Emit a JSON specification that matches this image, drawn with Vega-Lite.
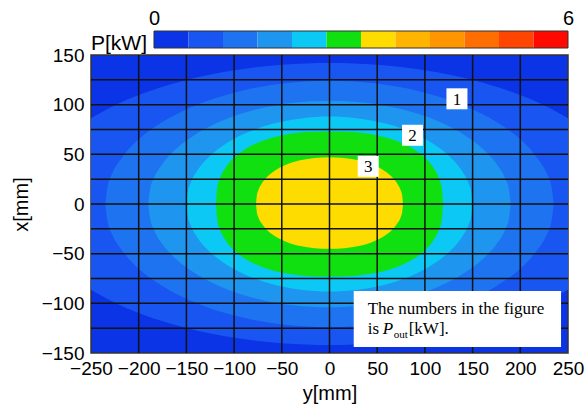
{
  "$schema": "https://vega.github.io/schema/vega-lite/v6.json",
  "background": "white",
  "padding": {"left": 10, "top": 8, "right": 0, "bottom": 0},
  "spacing": 7,
  "bounds": "flush",
  "config": {
    "font": "Liberation Sans",
    "view": {"stroke": null},
    "axis": {
      "grid": false, "ticks": false, "domain": false,
      "labelFontSize": 19, "titleFontSize": 20, "titleFontWeight": "normal",
      "labelOverlap": false, "labelFlush": false,
      "labelColor": "#000", "titleColor": "#000",
      "labelFont": "Liberation Sans", "titleFont": "Liberation Sans"
    }
  },
  "datasets": {
    "colorbar": [
      {"lo": 0, "hi": 0.5, "band": 1}, {"lo": 0.5, "hi": 1, "band": 2},
      {"lo": 1, "hi": 1.5, "band": 3}, {"lo": 1.5, "hi": 2, "band": 4},
      {"lo": 2, "hi": 2.5, "band": 5}, {"lo": 2.5, "hi": 3, "band": 6},
      {"lo": 3, "hi": 3.5, "band": 7}, {"lo": 3.5, "hi": 4, "band": 8},
      {"lo": 4, "hi": 4.5, "band": 9}, {"lo": 4.5, "hi": 5, "band": 10},
      {"lo": 5, "hi": 5.5, "band": 11}, {"lo": 5.5, "hi": 6, "band": 12}
    ],
    "contours": [
      {"band": 2, "ymm": -250, "xtop": 86.4, "xbot": -86.4},
      {"band": 2, "ymm": -225, "xtop": 99.4, "xbot": -99.4},
      {"band": 2, "ymm": -200, "xtop": 109.7, "xbot": -109.7},
      {"band": 2, "ymm": -150, "xtop": 124.9, "xbot": -124.9},
      {"band": 2, "ymm": -100, "xtop": 134.7, "xbot": -134.7},
      {"band": 2, "ymm": -50, "xtop": 140.2, "xbot": -140.2},
      {"band": 2, "ymm": 0, "xtop": 142, "xbot": -142},
      {"band": 2, "ymm": 50, "xtop": 140.2, "xbot": -140.2},
      {"band": 2, "ymm": 100, "xtop": 134.7, "xbot": -134.7},
      {"band": 2, "ymm": 150, "xtop": 124.9, "xbot": -124.9},
      {"band": 2, "ymm": 200, "xtop": 109.7, "xbot": -109.7},
      {"band": 2, "ymm": 225, "xtop": 99.4, "xbot": -99.4},
      {"band": 2, "ymm": 250, "xtop": 86.4, "xbot": -86.4},

      {"band": 3, "ymm": -235, "xtop": 0, "xbot": 0},
      {"band": 3, "ymm": -232.7, "xtop": 17.5, "xbot": -17.5},
      {"band": 3, "ymm": -228, "xtop": 30.1, "xbot": -30.1},
      {"band": 3, "ymm": -216, "xtop": 48.6, "xbot": -48.6},
      {"band": 3, "ymm": -200, "xtop": 65.1, "xbot": -65.1},
      {"band": 3, "ymm": -176, "xtop": 82, "xbot": -82},
      {"band": 3, "ymm": -141, "xtop": 99.2, "xbot": -99.2},
      {"band": 3, "ymm": -94, "xtop": 113.6, "xbot": -113.6},
      {"band": 3, "ymm": -47, "xtop": 121.5, "xbot": -121.5},
      {"band": 3, "ymm": 0, "xtop": 124, "xbot": -124},
      {"band": 3, "ymm": 47, "xtop": 121.5, "xbot": -121.5},
      {"band": 3, "ymm": 94, "xtop": 113.6, "xbot": -113.6},
      {"band": 3, "ymm": 141, "xtop": 99.2, "xbot": -99.2},
      {"band": 3, "ymm": 176, "xtop": 82, "xbot": -82},
      {"band": 3, "ymm": 200, "xtop": 65.1, "xbot": -65.1},
      {"band": 3, "ymm": 216, "xtop": 48.6, "xbot": -48.6},
      {"band": 3, "ymm": 228, "xtop": 30.1, "xbot": -30.1},
      {"band": 3, "ymm": 232.7, "xtop": 17.5, "xbot": -17.5},
      {"band": 3, "ymm": 235, "xtop": 0, "xbot": 0},

      {"band": 4, "ymm": -190, "xtop": 0, "xbot": 0},
      {"band": 4, "ymm": -188.1, "xtop": 14.7, "xbot": -14.7},
      {"band": 4, "ymm": -184.3, "xtop": 25.3, "xbot": -25.3},
      {"band": 4, "ymm": -174.8, "xtop": 40.8, "xbot": -40.8},
      {"band": 4, "ymm": -161.5, "xtop": 54.8, "xbot": -54.8},
      {"band": 4, "ymm": -142.5, "xtop": 68.8, "xbot": -68.8},
      {"band": 4, "ymm": -114, "xtop": 83.2, "xbot": -83.2},
      {"band": 4, "ymm": -76, "xtop": 95.3, "xbot": -95.3},
      {"band": 4, "ymm": -38, "xtop": 101.9, "xbot": -101.9},
      {"band": 4, "ymm": 0, "xtop": 104, "xbot": -104},
      {"band": 4, "ymm": 38, "xtop": 101.9, "xbot": -101.9},
      {"band": 4, "ymm": 76, "xtop": 95.3, "xbot": -95.3},
      {"band": 4, "ymm": 114, "xtop": 83.2, "xbot": -83.2},
      {"band": 4, "ymm": 142.5, "xtop": 68.8, "xbot": -68.8},
      {"band": 4, "ymm": 161.5, "xtop": 54.8, "xbot": -54.8},
      {"band": 4, "ymm": 174.8, "xtop": 40.8, "xbot": -40.8},
      {"band": 4, "ymm": 184.3, "xtop": 25.3, "xbot": -25.3},
      {"band": 4, "ymm": 188.1, "xtop": 14.7, "xbot": -14.7},
      {"band": 4, "ymm": 190, "xtop": 0, "xbot": 0},

      {"band": 5, "ymm": -150, "xtop": 0, "xbot": 0},
      {"band": 5, "ymm": -148.5, "xtop": 12.4, "xbot": -12.4},
      {"band": 5, "ymm": -145.5, "xtop": 21.4, "xbot": -21.4},
      {"band": 5, "ymm": -138, "xtop": 34.5, "xbot": -34.5},
      {"band": 5, "ymm": -127.5, "xtop": 46.4, "xbot": -46.4},
      {"band": 5, "ymm": -112.5, "xtop": 58.2, "xbot": -58.2},
      {"band": 5, "ymm": -90, "xtop": 70.4, "xbot": -70.4},
      {"band": 5, "ymm": -60, "xtop": 80.7, "xbot": -80.7},
      {"band": 5, "ymm": -30, "xtop": 86.2, "xbot": -86.2},
      {"band": 5, "ymm": 0, "xtop": 88, "xbot": -88},
      {"band": 5, "ymm": 30, "xtop": 86.2, "xbot": -86.2},
      {"band": 5, "ymm": 60, "xtop": 80.7, "xbot": -80.7},
      {"band": 5, "ymm": 90, "xtop": 70.4, "xbot": -70.4},
      {"band": 5, "ymm": 112.5, "xtop": 58.2, "xbot": -58.2},
      {"band": 5, "ymm": 127.5, "xtop": 46.4, "xbot": -46.4},
      {"band": 5, "ymm": 138, "xtop": 34.5, "xbot": -34.5},
      {"band": 5, "ymm": 145.5, "xtop": 21.4, "xbot": -21.4},
      {"band": 5, "ymm": 148.5, "xtop": 12.4, "xbot": -12.4},
      {"band": 5, "ymm": 150, "xtop": 0, "xbot": 0},

      {"band": 6, "ymm": -119, "xtop": 0, "xbot": 0},
      {"band": 6, "ymm": -117.8, "xtop": 15.4, "xbot": -15.4},
      {"band": 6, "ymm": -115.4, "xtop": 24.2, "xbot": -24.2},
      {"band": 6, "ymm": -109.5, "xtop": 35.8, "xbot": -35.8},
      {"band": 6, "ymm": -101.2, "xtop": 45.6, "xbot": -45.6},
      {"band": 6, "ymm": -89.3, "xtop": 54.6, "xbot": -54.6},
      {"band": 6, "ymm": -71.4, "xtop": 63.1, "xbot": -63.1},
      {"band": 6, "ymm": -47.6, "xtop": 69.5, "xbot": -69.5},
      {"band": 6, "ymm": -23.8, "xtop": 72.4, "xbot": -72.4},
      {"band": 6, "ymm": 0, "xtop": 73, "xbot": -73},
      {"band": 6, "ymm": 23.8, "xtop": 72.4, "xbot": -72.4},
      {"band": 6, "ymm": 47.6, "xtop": 69.5, "xbot": -69.5},
      {"band": 6, "ymm": 71.4, "xtop": 63.1, "xbot": -63.1},
      {"band": 6, "ymm": 89.3, "xtop": 54.6, "xbot": -54.6},
      {"band": 6, "ymm": 101.2, "xtop": 45.6, "xbot": -45.6},
      {"band": 6, "ymm": 109.5, "xtop": 35.8, "xbot": -35.8},
      {"band": 6, "ymm": 115.4, "xtop": 24.2, "xbot": -24.2},
      {"band": 6, "ymm": 117.8, "xtop": 15.4, "xbot": -15.4},
      {"band": 6, "ymm": 119, "xtop": 0, "xbot": 0},

      {"band": 7, "ymm": -77, "xtop": 0, "xbot": 0},
      {"band": 7, "ymm": -76.2, "xtop": 8.3, "xbot": -8},
      {"band": 7, "ymm": -74.7, "xtop": 13.5, "xbot": -13},
      {"band": 7, "ymm": -70.8, "xtop": 20.9, "xbot": -20},
      {"band": 7, "ymm": -65.5, "xtop": 27.2, "xbot": -26.1},
      {"band": 7, "ymm": -57.8, "xtop": 33.3, "xbot": -32},
      {"band": 7, "ymm": -46.2, "xtop": 39.3, "xbot": -37.7},
      {"band": 7, "ymm": -30.8, "xtop": 44, "xbot": -42.3},
      {"band": 7, "ymm": -15.4, "xtop": 46.4, "xbot": -44.5},
      {"band": 7, "ymm": 0, "xtop": 47, "xbot": -45.1},
      {"band": 7, "ymm": 15.4, "xtop": 46.4, "xbot": -44.5},
      {"band": 7, "ymm": 30.8, "xtop": 44, "xbot": -42.3},
      {"band": 7, "ymm": 46.2, "xtop": 39.3, "xbot": -37.7},
      {"band": 7, "ymm": 57.8, "xtop": 33.3, "xbot": -32},
      {"band": 7, "ymm": 65.5, "xtop": 27.2, "xbot": -26.1},
      {"band": 7, "ymm": 70.8, "xtop": 20.9, "xbot": -20},
      {"band": 7, "ymm": 74.7, "xtop": 13.5, "xbot": -13},
      {"band": 7, "ymm": 76.2, "xtop": 8.3, "xbot": -8},
      {"band": 7, "ymm": 77, "xtop": 0, "xbot": 0}
    ],
    "gridV": [{"ymm": -200}, {"ymm": -150}, {"ymm": -100}, {"ymm": -50}, {"ymm": 0}, {"ymm": 50}, {"ymm": 100}, {"ymm": 150}, {"ymm": 200}],
    "gridH": [{"xmm": -125}, {"xmm": -100}, {"xmm": -75}, {"xmm": -50}, {"xmm": -25}, {"xmm": 0}, {"xmm": 25}, {"xmm": 50}, {"xmm": 75}, {"xmm": 100}, {"xmm": 125}],
    "labels": [
      {"label": "1", "ymm": 133.6, "xmm": 105.9},
      {"label": "2", "ymm": 87, "xmm": 69.2},
      {"label": "3", "ymm": 40.6, "xmm": 37.9}
    ]
  },
  "vconcat": [
    {
      "width": 477,
      "height": 17,
      "layer": [
        {
          "data": {"name": "colorbar"},
          "mark": {"type": "rect"},
          "encoding": {
            "x": {
              "field": "lo", "type": "quantitative",
              "scale": {"domain": [-0.913, 6], "nice": false, "zero": false},
              "axis": {"orient": "top", "values": [0, 6], "format": "d", "labelPadding": 3, "labelFontSize": 20, "title": null}
            },
            "x2": {"field": "hi"},
            "color": {
              "field": "band", "type": "ordinal",
              "scale": {
                "domain": [1, 2, 3, 4, 5, 6, 7, 8, 9, 10, 11, 12],
                "range": ["#0b34e6", "#1955f0", "#1e73f0", "#1e96f0", "#0cc8f5", "#10e010", "#ffdc00", "#ffb400", "#ff9600", "#ff6e00", "#ff4600", "#ff0a00"]
              },
              "legend": null
            }
          }
        },
        {
          "data": {"values": [{}]},
          "mark": {"type": "rect", "filled": false, "stroke": "#333", "strokeWidth": 1},
          "encoding": {
            "x": {"datum": 0, "type": "quantitative"},
            "x2": {"datum": 6}
          }
        },
        {
          "data": {"values": [{}]},
          "mark": {"type": "text", "text": "P[kW]", "fontSize": 21, "align": "left", "baseline": "middle", "dy": 4, "color": "#000", "font": "Liberation Sans"},
          "encoding": {
            "x": {"datum": -0.913, "type": "quantitative"}
          }
        }
      ]
    },
    {
      "width": 477,
      "height": 298,
      "view": {"fill": "#0b34e6", "stroke": "#333", "strokeWidth": 1.5},
      "layer": [
        {
          "data": {"name": "contours"},
          "encoding": {
            "x": {
              "field": "ymm", "type": "quantitative", "title": "y[mm]",
              "scale": {"domain": [-250, 250], "nice": false},
              "axis": {"values": [-250, -200, -150, -100, -50, 0, 50, 100, 150, 200, 250], "format": "d", "labelPadding": 6, "titlePadding": 5}
            },
            "y": {
              "field": "xtop", "type": "quantitative", "title": "x[mm]", "stack": null,
              "scale": {"domain": [-150, 150], "nice": false},
              "axis": {"values": [-150, -125, -100, -75, -50, -25, 0, 25, 50, 75, 100, 125, 150], "format": "d", "labelPadding": 7, "titlePadding": 10}
            },
            "y2": {"field": "xbot"},
            "color": {
              "field": "band", "type": "ordinal",
              "scale": {
                "domain": [1, 2, 3, 4, 5, 6, 7, 8, 9, 10, 11, 12],
                "range": ["#0b34e6", "#1955f0", "#1e73f0", "#1e96f0", "#0cc8f5", "#10e010", "#ffdc00", "#ffb400", "#ff9600", "#ff6e00", "#ff4600", "#ff0a00"]
              },
              "legend": null
            }
          },
          "layer": [
            {"transform": [{"filter": "datum.band == 2"}], "mark": {"type": "area", "interpolate": "monotone", "clip": true, "opacity": 1}},
            {"transform": [{"filter": "datum.band == 3"}], "mark": {"type": "area", "interpolate": "monotone", "clip": true, "opacity": 1}},
            {"transform": [{"filter": "datum.band == 4"}], "mark": {"type": "area", "interpolate": "monotone", "clip": true, "opacity": 1}},
            {"transform": [{"filter": "datum.band == 5"}], "mark": {"type": "area", "interpolate": "monotone", "clip": true, "opacity": 1}},
            {"transform": [{"filter": "datum.band == 6"}], "mark": {"type": "area", "interpolate": "monotone", "clip": true, "opacity": 1}},
            {"transform": [{"filter": "datum.band == 7"}], "mark": {"type": "area", "interpolate": "monotone", "clip": true, "opacity": 1}}
          ]
        },
        {
          "data": {"name": "gridV"},
          "mark": {"type": "rule", "color": "#111", "strokeWidth": 1.5},
          "encoding": {"x": {"field": "ymm", "type": "quantitative", "title": "y[mm]"}}
        },
        {
          "data": {"name": "gridH"},
          "mark": {"type": "rule", "color": "#111", "strokeWidth": 1.5},
          "encoding": {"y": {"field": "xmm", "type": "quantitative", "title": "x[mm]"}}
        },
        {
          "data": {"name": "labels"},
          "mark": {"type": "point", "shape": "square", "size": 441, "filled": true, "color": "white", "opacity": 1, "strokeWidth": 0},
          "encoding": {
            "x": {"field": "ymm", "type": "quantitative", "title": "y[mm]"},
            "y": {"field": "xmm", "type": "quantitative", "title": "x[mm]"}
          }
        },
        {
          "data": {"name": "labels"},
          "mark": {"type": "text", "font": "Liberation Serif", "fontSize": 17, "color": "#000", "baseline": "middle", "align": "center", "dy": 1},
          "encoding": {
            "x": {"field": "ymm", "type": "quantitative", "title": "y[mm]"},
            "y": {"field": "xmm", "type": "quantitative", "title": "x[mm]"},
            "text": {"field": "label"}
          }
        },
        {
          "data": {"values": [{}]},
          "mark": {"type": "rect", "color": "white", "opacity": 1},
          "encoding": {
            "x": {"datum": 25.4, "type": "quantitative"},
            "x2": {"datum": 242.7},
            "y": {"datum": -87.7, "type": "quantitative"},
            "y2": {"datum": -144}
          }
        },
        {
          "data": {"values": [{}]},
          "mark": {"type": "text", "text": "The numbers in the figure", "font": "Liberation Serif", "fontSize": 17, "color": "#000", "align": "left", "baseline": "middle"},
          "encoding": {
            "x": {"datum": 40, "type": "quantitative"},
            "y": {"datum": -106.1, "type": "quantitative"}
          }
        },
        {
          "data": {"values": [{}]},
          "mark": {"type": "text", "text": "is", "font": "Liberation Serif", "fontSize": 17, "color": "#000", "align": "left", "baseline": "middle"},
          "encoding": {
            "x": {"datum": 40, "type": "quantitative"},
            "y": {"datum": -126.2, "type": "quantitative"}
          }
        },
        {
          "data": {"values": [{}]},
          "mark": {"type": "text", "text": "P", "font": "Liberation Serif", "fontStyle": "italic", "fontSize": 17, "color": "#000", "align": "left", "baseline": "middle"},
          "encoding": {
            "x": {"datum": 55.8, "type": "quantitative"},
            "y": {"datum": -126.2, "type": "quantitative"}
          }
        },
        {
          "data": {"values": [{}]},
          "mark": {"type": "text", "text": "out", "font": "Liberation Serif", "fontSize": 11, "color": "#000", "align": "left", "baseline": "middle"},
          "encoding": {
            "x": {"datum": 67.4, "type": "quantitative"},
            "y": {"datum": -131.5, "type": "quantitative"}
          }
        },
        {
          "data": {"values": [{}]},
          "mark": {"type": "text", "text": "[kW].", "font": "Liberation Serif", "fontSize": 17, "color": "#000", "align": "left", "baseline": "middle"},
          "encoding": {
            "x": {"datum": 83, "type": "quantitative"},
            "y": {"datum": -126.2, "type": "quantitative"}
          }
        }
      ]
    }
  ],
  "resolve": {"scale": {"x": "independent", "y": "independent"}}
}
